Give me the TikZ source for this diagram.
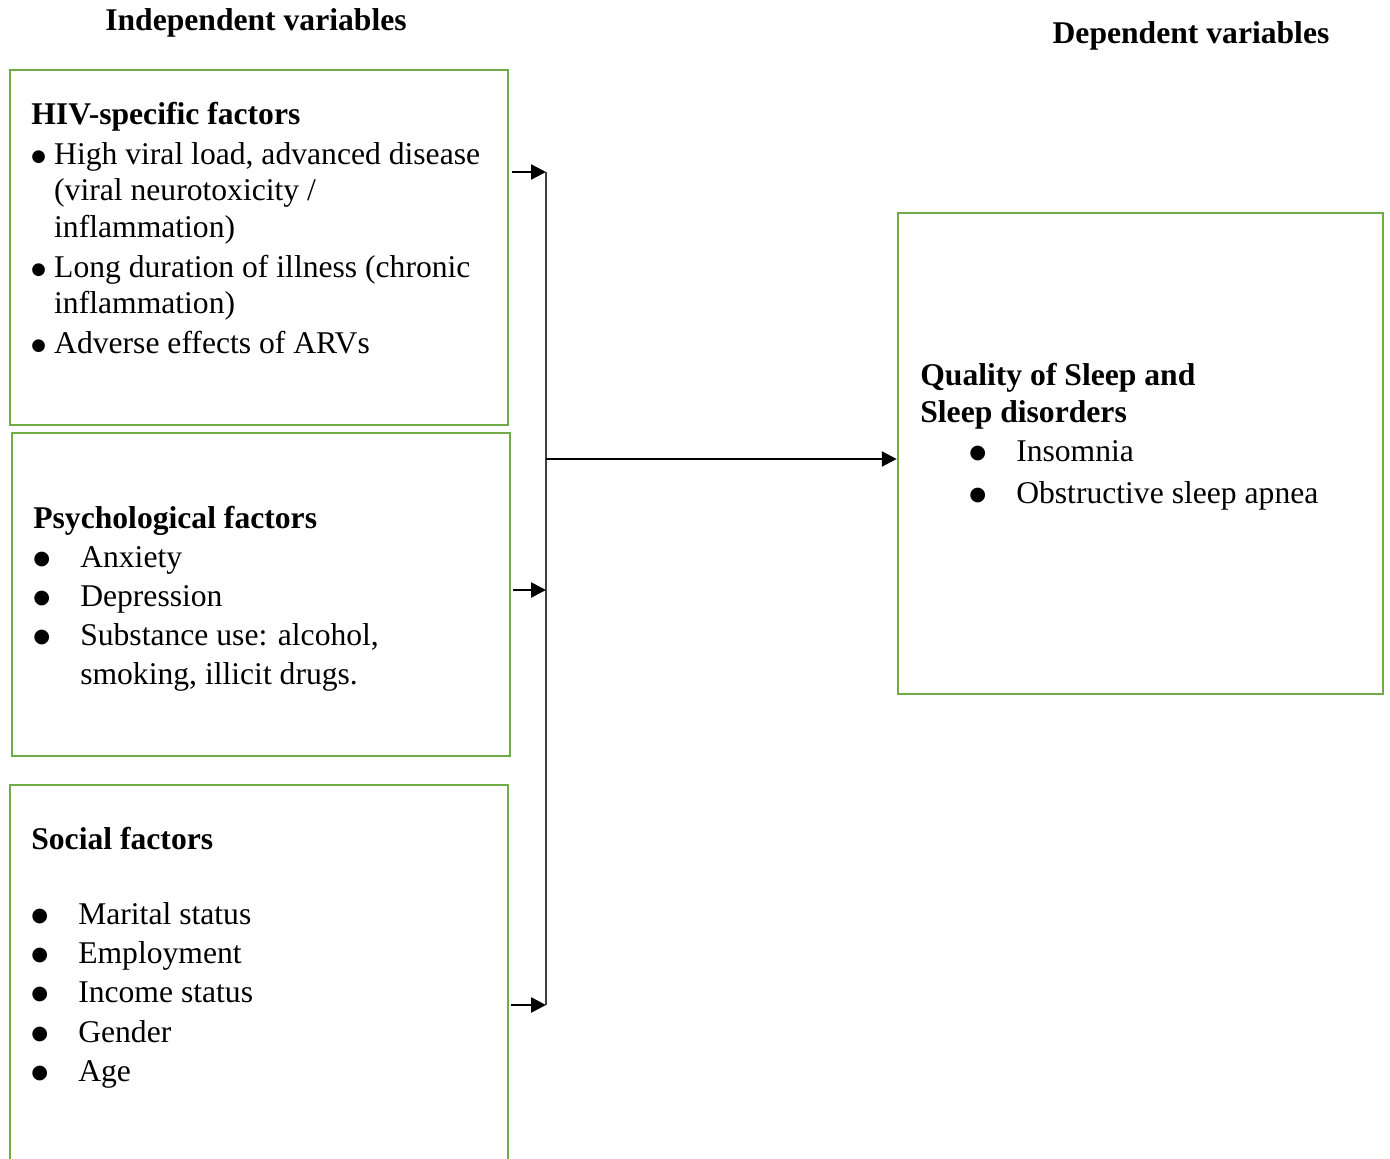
\documentclass[tikz,border=0pt]{standalone}
\usepackage{fontspec}
\setmainfont{Liberation Serif}
\newfontfamily\dotfont{DejaVu Sans}
\newcommand{\itemdot}[1][11]{\raisebox{1.7pt}{\dotfont\fontsize{#1}{13}\selectfont ●}}
\usepackage{xcolor}
\usepackage{tikz}
\usetikzlibrary{arrows.meta,positioning,fit,calc}
\definecolor{boxgreen}{HTML}{70AD47}

\begin{document}
\begin{tikzpicture}[x=0.02cm, y=-0.02cm,
  box/.style={draw=boxgreen, line width=1.5pt, inner sep=0pt},
  head/.style={font=\fontsize{18}{21}\selectfont\bfseries, inner sep=0pt, anchor=base},
  txt/.style={anchor=base west, inner sep=0pt, align=left},
  flow/.style={-{Triangle[length=8.5pt, width=8.5pt]}, line width=1.5pt},
  bus/.style={line width=1pt, black!75},
]
  \useasboundingbox (0,0) rectangle (1390,1159);
  \clip (0,0) rectangle (1390,1159);

  \node[head] (indep) at (256,31) {Independent variables};
  \node[head] (dep) at (1191,44) {Dependent variables};

  % factor boxes (the last one runs off the page)
  \node[box, fit={(10,70) (508,425)}] (hiv) {};
  \node[box, fit={(12,433) (510,756)}] (psy) {};
  \node[box, fit={(10,785) (508,1200)}] (soc) {};
  \node[box, fit={(898,213) (1383,694)}] (sleep) {};

  \node[txt, font=\fontsize{18}{20.8}\selectfont] (hivtxt) at (31,125) {%
    \begin{tabular}[t]{@{}p{13pt}@{}l@{}}
      \multicolumn{2}{@{}l@{}}{\textbf{HIV-specific factors}}\\[1.4pt]
      \itemdot[9.5] & High viral load, advanced disease\\
      & (viral neurotoxicity /\\
      & inflammation)\\[2pt]
      \itemdot[9.5] & Long duration of illness (chronic\\
      & inflammation)\\[2pt]
      \itemdot[9.5] & Adverse effects of ARVs
    \end{tabular}};

  \node[txt, font=\fontsize{18}{22.2}\selectfont] (psytxt) at (33,528) {%
    \begin{tabular}[t]{@{}p{26.7pt}@{}l@{}}
      \multicolumn{2}{@{}l@{}}{\textbf{Psychological factors}}\\
      \itemdot & Anxiety\\
      \itemdot & Depression\\
      \itemdot & Substance use: alcohol,\\
      & smoking, illicit drugs.
    \end{tabular}};

  \node[txt, font=\fontsize{18}{22.4}\selectfont] (soctxt) at (31,849) {%
    \begin{tabular}[t]{@{}p{26.7pt}@{}l@{}}
      \multicolumn{2}{@{}l@{}}{\textbf{Social factors}}\\[20.3pt]
      \itemdot & Marital status\\
      \itemdot & Employment\\
      \itemdot & Income status\\
      \itemdot & Gender\\
      \itemdot & Age
    \end{tabular}};

  \node[txt, font=\fontsize{18}{21.1}\selectfont] (sleeptxt) at (920,385) {%
    \begin{tabular}[t]{@{}p{27.9pt}@{}p{26.7pt}@{}l@{}}
      \multicolumn{3}{@{}l@{}}{\textbf{Quality of Sleep and}}\\
      \multicolumn{3}{@{}l@{}}{\textbf{Sleep disorders}}\\[1.1pt]
      & \itemdot & Insomnia\\[2.8pt]
      & \itemdot & Obstructive sleep apnea
    \end{tabular}};

  % collecting line and arrows
  \coordinate (t1) at (546,172);
  \coordinate (t2) at (546,590);
  \coordinate (t3) at (546,1005);
  \coordinate (mid) at (546,459);
  \draw[bus] (t1) -- (t3);
  \draw[flow] ($(hiv.east |- t1)+(3,0)$) -- (t1);
  \draw[flow] ($(psy.east |- t2)+(2,0)$) -- (t2);
  \draw[flow] ($(soc.east |- t3)+(2,0)$) -- (t3);
  \draw[flow] (mid) -- (mid -| sleep.west);
\end{tikzpicture}
\end{document}
